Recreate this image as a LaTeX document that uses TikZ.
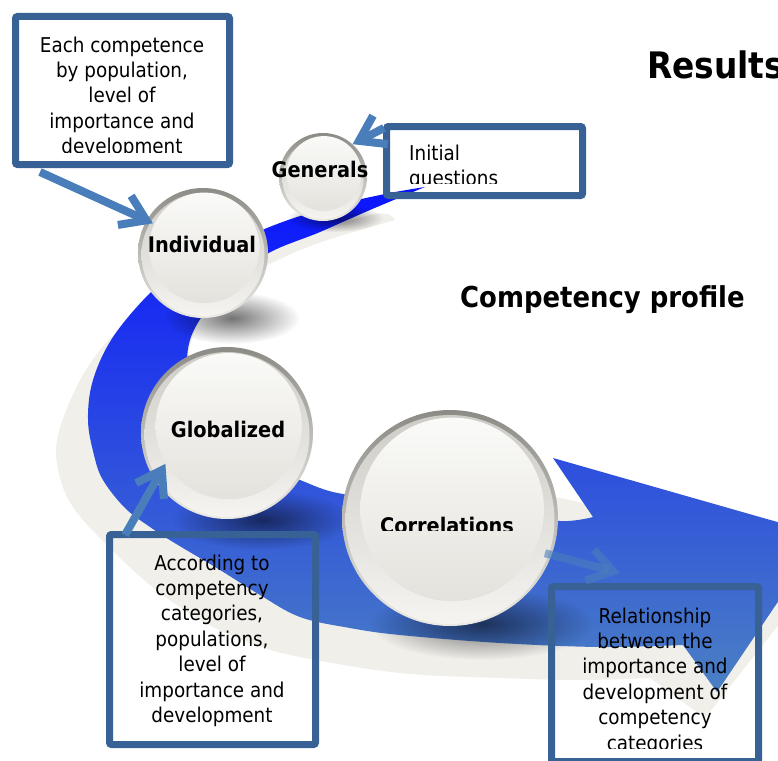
\documentclass[tikz,border=0pt]{standalone}
\usepackage{fontspec}
\setmainfont{DejaVu Sans}[FakeStretch=0.9]
\usetikzlibrary{arrows.meta,fadings,calc}
\tikzfading[name=softshade,inner color=transparent!0,outer color=transparent!100]
\definecolor{boxc}{RGB}{56,98,150}
\definecolor{arrc}{RGB}{74,126,187}
\definecolor{bandgray}{RGB}{240,239,234}
\definecolor{bandtop}{RGB}{10,20,255}
\definecolor{bandmid}{RGB}{59,94,219}
\definecolor{bandbot}{RGB}{75,128,195}
\definecolor{rimtop}{RGB}{140,139,134}
\definecolor{rimbot}{RGB}{235,234,229}
\definecolor{midtop}{RGB}{205,204,199}
\definecolor{midbot}{RGB}{245,244,240}
\definecolor{inntop}{RGB}{250,250,248}
\definecolor{innbot}{RGB}{228,226,220}
\newcommand\bdyf{\fontsize{20.4}{25.4}\selectfont}
\newcommand\lblf{\fontsize{21.5}{24}\selectfont\bfseries}
\newcommand\drawsphere[3]{%
  \shade[top color=rimtop,bottom color=rimbot] (#1,#2) circle (#3);
  \shade[top color=midtop,bottom color=midbot] (#1,#2+1.5) circle (#3-3.5);
  \shade[top color=inntop,bottom color=innbot] (#1+0.02*#3,#2-0.08*#3) circle (0.85*#3);}
\newcommand\dropshadow[4]{%
  \fill[black,opacity=0.55,path fading=softshade] (#1,#2) ellipse (#3 and #4);}
\begin{document}
\begin{tikzpicture}[x=1pt,y=-1pt,
  box/.style={draw=boxc,line width=7pt,rounded corners=2pt,inner sep=0pt},
  callout/.style={draw=arrc,line width=8pt,-{Straight Barb[length=24pt,width=32pt]}},
  txt/.style={inner sep=0pt,align=center,font=\bdyf},
  lbl/.style={inner sep=0pt,font=\lblf},
  ballnode/.style={circle,inner sep=0pt,minimum size=#1}]
\useasboundingbox (0,0) rectangle (778,760);

% gray shadow band
\fill[bandgray]
  plot[smooth,tension=0.6] coordinates {(395,220) (340,236) (300,250) (267,265) (220,285) (170,305) (130,322) (100,350) (75,390) (57,440) (60,478) (75,510) (107,545) (150,585) (200,620) (250,643) (300,657) (400,673) (500,678) (580,680) (650,678)}
  -- (705,718) -- (830,560) -- (575,470) -- (612,512)
  -- plot[smooth,tension=0.6] coordinates {(612,512) (560,498) (480,488) (400,488) (343,494) (300,480) (225,438) (190,370) (205,312) (267,254) (370,215) (395,220)}
  -- cycle;

% blue curved arrow
\shade[top color=bandtop,middle color=bandmid,bottom color=bandbot]
  plot[smooth,tension=0.6] coordinates {(425,187) (390,193) (340,204) (300,216) (267,228) (220,248) (180,270) (150,293) (113,337) (93,380) (88,420) (94,455) (103,480) (125,508) (150,527) (173,542) (220,570) (260,595) (300,617) (350,628) (400,635) (500,643) (600,647) (683,645)}
  -- (717,692) -- (823,535) -- (553,458) -- (593,517)
  -- plot[smooth,tension=0.6] coordinates {(593,517) (560,521) (500,512) (420,500) (343,494) (300,480) (260,462) (225,438) (200,405) (188,370) (190,340) (205,312) (230,285) (267,254) (320,232) (370,210) (425,187)}
  -- cycle;

% sphere nodes (positions)
\node[ballnode=88pt]  (gen) at (323,177) {};
\node[ballnode=130pt] (ind) at (203,253) {};
\node[ballnode=172pt] (glo) at (227,433) {};
\node[ballnode=216pt] (cor) at (450,518) {};

% drop shadows
\dropshadow{335}{218}{48}{14}
\dropshadow{232}{318}{68}{26}
\dropshadow{262}{520}{90}{30}
\dropshadow{482}{624}{112}{36}

% spheres
\drawsphere{323}{177}{44}
\drawsphere{203}{253}{65}
\drawsphere{227}{433}{86}
\drawsphere{450}{518}{108}

% boxes
\node[box,minimum width=214pt,minimum height=148pt] (b1) at (122.5,90.5) {};
\node[box,minimum width=196pt,minimum height=69pt]  (b2) at (484.5,161) {};
\node[box,minimum width=206pt,minimum height=210pt] (b3) at (212.5,639.5) {};
\node[box,minimum width=207pt,minimum height=175pt] (b4) at (655,674) {};

% callout arrows
\draw[callout,shorten >=-7pt] (b1.south west) ++(28,4) -- (ind.150);
\draw[callout] (b2.north west) ++(1,5) -- (gen.48);
\draw[callout,shorten >=-20pt] (b3.north west) ++(19,4) -- (glo.214);
\draw[callout,opacity=0.6,shorten <=-7pt] (cor.-20) -- ($(b4.north west)+(72,-10)$);

% sphere labels
\node[lbl,anchor=base] (gen-l) at (320,177) {Generals};
\node[lbl,anchor=base] (ind-l) at (202,252) {Individual};
\node[lbl,anchor=base] (glo-l) at (228,437) {Globalized};
\begin{scope}
  \clip (340,400) rectangle (560,530);
  \node[lbl,anchor=base] (cor-l) at (447,533) {Correlations};
\end{scope}

% titles
\node[inner sep=0pt,anchor=base west,font=\fontsize{36.5}{40}\selectfont\bfseries] (res) at (647,78) {Results};
\node[inner sep=0pt,anchor=base west,font=\fontsize{28.8}{32}\selectfont\bfseries] (cp) at (460,307) {Competency profile};

% box texts (anchor base = baseline of the last line)
\begin{scope}
  \clip (19,20) rectangle (226,152);
  \node[txt,anchor=base] (t1) at (122,153.6) {Each competence\\by population,\\level of\\importance and\\development};
\end{scope}
\begin{scope}
  \clip (390,130) rectangle (580,183);
  \node[txt,align=left,anchor=base west] (t2) at (409,185.4) {Initial\\questions};
\end{scope}
\node[txt,anchor=base] (t3) at (212,722.4) {According to\\competency\\categories,\\populations,\\level of\\importance and\\development};
\begin{scope}
  \clip (555,590) rectangle (755,748);
  \node[txt,anchor=base] (t4) at (655,750) {Relationship\\between the\\importance and\\development of\\competency\\categories};
\end{scope}
\end{tikzpicture}
\end{document}
